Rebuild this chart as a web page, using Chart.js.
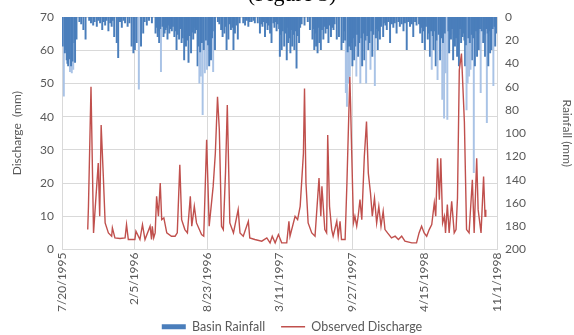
<!DOCTYPE html>
<html>
<head>
<meta charset="utf-8">
<script src="https://cdn.jsdelivr.net/npm/chart.js@4.4.1/dist/chart.umd.min.js"></script>
<style>
  html, body { margin: 0; padding: 0; background: #fff; }
  #wrap { width: 574px; height: 335px; position: relative; }
</style>
</head>
<body>
<div id="wrap"><canvas id="chart"></canvas></div>
<script>
// x axis = days since 7/20/1995, one tick every 200 days
const tickLabels = ['7/20/1995', '2/5/1996', '8/23/1996', '3/11/1997', '9/27/1997', '4/15/1998', '11/1/1998'];

// observed discharge (mm)
const qDays = [71, 73, 80, 87, 100, 104, 108, 114, 119, 128, 137, 139, 146, 160, 174, 178, 183, 201, 204, 215,
  222, 229, 243, 247, 249, 253, 257, 261, 266, 271, 275, 281, 289, 302, 312, 318, 325, 330, 339, 346,
  354, 358, 365, 371, 385, 391, 399, 406, 417, 423, 429, 434, 440, 445, 451, 456, 463, 473, 486, 491,
  500, 514, 518, 532, 551, 565, 574, 580, 588, 597, 606, 620, 626, 629, 643, 650, 657, 666, 669, 673,
  679, 689, 698, 709, 714, 717, 725, 730, 733, 738, 744, 748, 758, 762, 767, 771, 781, 786, 794, 796,
  799, 804, 808, 813, 817, 822, 827, 834, 840, 845, 851, 856, 862, 868, 874, 880, 886, 891, 898, 909,
  919, 928, 937, 946, 965, 978, 985, 992, 999, 1006, 1013, 1020, 1027, 1031, 1036, 1041, 1045, 1050, 1055, 1058,
  1063, 1068, 1075, 1082, 1087, 1091, 1096, 1102, 1110, 1116, 1123, 1132, 1137, 1144, 1148, 1156, 1163, 1167, 1169];
const qValues = [6, 13, 49, 5, 26, 10, 37.5, 22, 8, 5, 4, 6.5, 3.5, 3.3, 3.5, 7.5, 3, 3, 5.5, 3,
  7.5, 3, 7, 3, 7, 3.5, 5, 16, 10, 20, 9, 9.5, 5, 4, 4, 5, 25.5, 9, 6, 5,
  16, 7, 13, 8, 4.5, 4, 33, 7, 19, 29, 46, 36, 7, 6, 23, 43.5, 8, 5, 12, 5,
  4, 8.5, 3.5, 3, 2.5, 3.5, 2, 4, 2, 4.5, 2, 2, 8.5, 4, 10, 9, 13, 29, 48.5, 20,
  8, 5, 4, 21.5, 10, 19, 6, 5, 34.5, 13, 6, 4, 8.5, 4, 8.5, 3, 3, 20, 52, 44,
  30, 8, 10, 7, 10, 15, 9, 28, 38.5, 23, 17, 10, 15.5, 8, 13, 7, 11.5, 6, 5, 3.5,
  4, 3, 4, 2.5, 2, 2, 5, 7, 5, 4, 6, 7.5, 14, 10, 27.5, 15, 27.5, 8, 10, 5,
  13.5, 5, 14.5, 5, 6, 15.5, 54, 59, 38.5, 6, 5, 21, 5, 27.5, 12, 5, 22, 10, 12];

// basin rainfall (mm): the bigger storms
const rainDays = [5, 8, 13, 17, 22, 27, 31, 36, 40, 59, 65, 86, 96, 105, 111, 119, 128, 137, 144, 151,
  155, 165, 174, 181, 192, 197, 201, 206, 212, 218, 224, 234, 258, 264, 268, 273, 280, 286, 291, 296,
  303, 310, 316, 323, 330, 337, 342, 349, 356, 362, 367, 374, 379, 383, 388, 394, 400, 406, 411, 417,
  422, 439, 443, 448, 454, 459, 466, 473, 477, 485, 500, 505, 514, 523, 532, 546, 553, 560, 567, 574,
  578, 586, 592, 601, 606, 613, 620, 624, 630, 635, 641, 647, 654, 669, 678, 684, 691, 696, 701, 705,
  710, 714, 721, 727, 735, 742, 749, 758, 764, 771, 776, 783, 786, 790, 794, 801, 806, 812, 817, 823,
  828, 834, 839, 845, 851, 856, 863, 871, 877, 886, 896, 905, 914, 923, 932, 942, 951, 960, 969, 978,
  988, 994, 1001, 1009, 1015, 1020, 1025, 1031, 1036, 1043, 1049, 1054, 1058, 1063, 1068, 1073, 1079, 1084, 1090, 1095,
  1101, 1105, 1112, 1116, 1119, 1123, 1127, 1132, 1136, 1139, 1145, 1150, 1155, 1162, 1167, 1172, 1176, 1181, 1185, 1190,
  1195, 1198];
const rainMm = [68, 31, 37, 42, 47, 48, 45, 39, 19, 11, 19, 7, 8, 5, 11, 7, 12, 8, 17, 22,
  35, 9, 5, 8, 25, 31, 28, 22, 62, 25, 14, 7, 14, 17, 22, 47, 17, 11, 19, 14,
  12, 17, 28, 19, 22, 37, 25, 39, 31, 19, 14, 42, 57, 51, 84, 48, 45, 42, 37, 47,
  28, 11, 17, 14, 28, 19, 11, 28, 14, 19, 5, 7, 8, 4, 5, 14, 8, 17, 11, 14,
  22, 9, 12, 34, 28, 25, 37, 22, 31, 25, 28, 44, 22, 7, 4, 11, 19, 28, 25, 31,
  22, 28, 19, 14, 22, 17, 11, 19, 17, 28, 22, 65, 77, 57, 51, 42, 37, 51, 34, 57,
  42, 37, 57, 28, 45, 34, 59, 28, 19, 17, 11, 22, 9, 14, 8, 12, 28, 8, 17, 7,
  14, 22, 28, 19, 34, 45, 28, 42, 54, 37, 71, 87, 48, 88, 31, 19, 37, 25, 34, 42,
  22, 17, 42, 80, 57, 51, 45, 37, 134, 42, 34, 28, 65, 22, 34, 91, 42, 31, 28, 59,
  25, 14];

// basin rainfall (mm): the small showers filling the dense band at the top
const showerDays = [2, 10, 15, 20, 25, 29, 34, 38, 48, 53, 75, 80, 90, 100, 115, 123, 133, 140, 160, 170,
  186, 228, 240, 248, 261, 266, 271, 277, 283, 288, 294, 299, 306, 313, 319, 326, 333, 340, 345, 352,
  359, 365, 370, 376, 381, 386, 391, 397, 403, 409, 414, 420, 430, 434, 452, 463, 470, 481, 490, 510,
  518, 528, 540, 550, 556, 564, 570, 583, 589, 595, 599, 603, 609, 616, 622, 627, 633, 638, 644, 650,
  657, 661, 693, 698, 703, 708, 712, 717, 724, 731, 738, 745, 752, 779, 781, 788, 792, 797, 799, 803,
  809, 814, 820, 826, 831, 837, 842, 848, 853, 859, 866, 869, 874, 880, 888, 892, 900, 910, 918, 928,
  937, 946, 955, 965, 974, 985, 991, 997, 1004, 1012, 1018, 1023, 1028, 1033, 1039, 1046, 1051, 1056, 1066, 1071,
  1076, 1081, 1087, 1093, 1098, 1103, 1108, 1110, 1114, 1121, 1125, 1130, 1134, 1142, 1148, 1153, 1158, 1165, 1170, 1174,
  1179, 1183, 1188, 1193];
const showerMm = [25, 28, 40, 36, 42, 38, 22, 12, 4, 6, 3, 5, 4, 3, 4, 3, 5, 3, 4, 3,
  5, 4, 3, 5, 9, 12, 10, 8, 14, 9, 7, 10, 8, 12, 15, 10, 18, 12, 20, 16,
  13, 9, 11, 25, 30, 22, 28, 20, 24, 15, 18, 12, 4, 6, 8, 6, 9, 7, 5, 3,
  4, 3, 5, 6, 4, 5, 7, 5, 4, 6, 10, 15, 12, 14, 9, 18, 11, 15, 12, 16,
  9, 6, 10, 14, 12, 9, 15, 11, 8, 10, 7, 9, 6, 12, 20, 30, 25, 28, 22, 18,
  25, 15, 22, 18, 14, 20, 16, 22, 12, 15, 18, 10, 12, 8, 5, 7, 4, 6, 5, 4,
  6, 5, 4, 6, 4, 6, 9, 12, 8, 14, 12, 16, 12, 20, 15, 18, 22, 14, 12, 15,
  10, 14, 18, 15, 10, 8, 14, 20, 24, 18, 22, 15, 18, 12, 14, 10, 12, 15, 10, 14,
  12, 16, 10, 8];

const TEXT = '#595959';
const GRID = '#d9d9d9';
const RAIN_DARK = '#4a7ebb';
const RAIN_LIGHT = '#a9c3e6';
const FLOW = '#c0504d';

Chart.defaults.font.family = "Lato, 'Open Sans', sans-serif";
Chart.defaults.font.size = 12;
Chart.defaults.color = TEXT;

// cut-off caption above the plot
const captionPlugin = {
  id: 'caption',
  afterDraw(chart) {
    const ctx = chart.ctx;
    ctx.save();
    ctx.font = "22px 'Liberation Serif', serif";
    ctx.fillStyle = '#000';
    ctx.textAlign = 'center';
    ctx.textBaseline = 'alphabetic';
    ctx.fillText('(Figure 3)', 292, 1);
    ctx.restore();
  },
};

const rainPoints = rainDays.map((d, i) => ({ x: d, y: rainMm[i] }))
  .concat(showerDays.map((d, i) => ({ x: d, y: showerMm[i] })));

new Chart(document.getElementById('chart'), {
  data: {
    datasets: [
      {
        type: 'line',
        label: 'Observed Discharge',
        yAxisID: 'y',
        data: qDays.map((d, i) => ({ x: d, y: qValues[i] })),
        borderColor: FLOW,
        backgroundColor: FLOW,
        borderWidth: 1.4,
        pointRadius: 0,
        pointStyle: 'line',
        tension: 0,
        order: 1,
      },
      {
        type: 'bar',
        label: 'Basin Rainfall',
        yAxisID: 'y1',
        data: rainPoints,
        backgroundColor: (c) => (c.raw && c.raw.y >= 45 ? RAIN_LIGHT : RAIN_DARK),
        barThickness: 1.3,
        pointStyle: 'rect',
        order: 2,
      },
    ],
  },
  options: {
    responsive: true,
    maintainAspectRatio: false,
    animation: false,
    layout: { padding: { top: 17, left: 10, right: 0, bottom: -8 } },
    plugins: {
      tooltip: { enabled: false },
      legend: {
        position: 'bottom',
        labels: {
          usePointStyle: true,
          pointStyleWidth: 24,
          boxHeight: 5,
          padding: 0,
          color: TEXT,
          font: { size: 12.5 },
          sort: (a, b) => b.datasetIndex - a.datasetIndex,
          generateLabels: (chart) => {
            const items = Chart.defaults.plugins.legend.labels.generateLabels(chart);
            items.forEach((it) => {
              if (it.datasetIndex === 1) {
                it.fillStyle = RAIN_DARK;
                it.strokeStyle = RAIN_DARK;
                it.text += '\u00a0\u00a0\u00a0\u00a0\u00a0'; // gap before the next entry
              }
            });
            return items;
          },
        },
      },
    },
    scales: {
      x: {
        type: 'linear',
        offset: false,
        min: 0,
        max: 1200,
        afterFit: (s) => { s.height = 71; },
        ticks: {
          stepSize: 200,
          minRotation: 90,
          maxRotation: 90,
          color: TEXT,
          callback: (v) => tickLabels[v / 200],
        },
        grid: { color: GRID, drawTicks: false, offset: false },
        border: { color: GRID },
      },
      y: {
        position: 'left',
        min: 0,
        max: 70,
        afterFit: (s) => { s.width = 52; },
        ticks: { stepSize: 10, color: TEXT, padding: 8 },
        grid: { color: GRID, drawTicks: false },
        border: { display: false },
        title: { display: true, text: 'Discharge  (mm)', color: TEXT, font: { size: 12 }, padding: 0 },
      },
      y1: {
        position: 'right',
        reverse: true,
        min: 0,
        max: 200,
        afterFit: (s) => { s.width = 77; },
        ticks: { stepSize: 20, color: TEXT, padding: 8 },
        grid: { display: false, drawTicks: false },
        border: { display: false },
        title: { display: true, text: 'Rainfall (mm)', color: TEXT, font: { size: 12 }, padding: 0 },
      },
    },
  },
  plugins: [captionPlugin],
});
</script>
</body>
</html>
